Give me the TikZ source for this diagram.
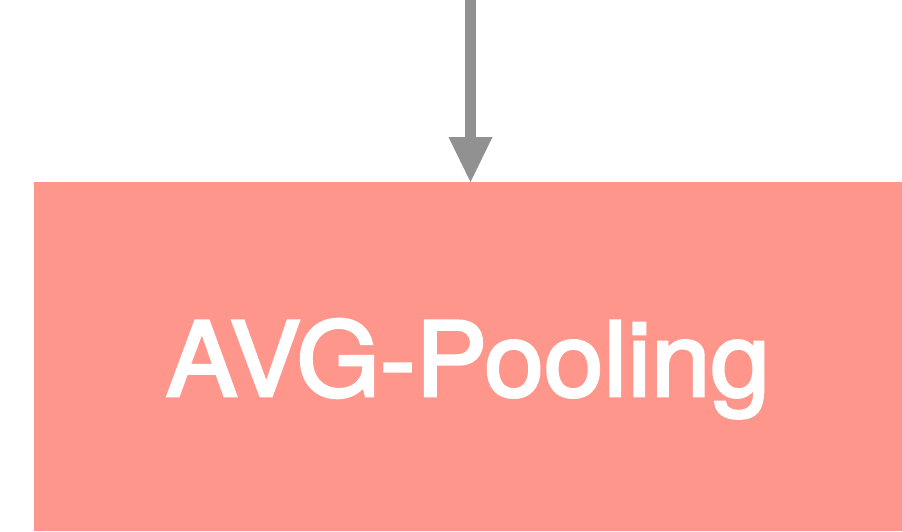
\documentclass[tikz,border=0pt]{standalone}
\usepackage{fontspec}
\setmainfont{TeX Gyre Heros}
\newfontfamily\poolfont[FakeBold=2.8,FakeStretch=1.04]{TeX Gyre Heros}
\usetikzlibrary{arrows.meta}
\definecolor{poolfill}{HTML}{FF968C}
\definecolor{flowgray}{HTML}{919191}
\tikzset{
  poolbox/.style={fill=poolfill, draw=none, inner sep=0pt, minimum width=868pt, minimum height=349pt},
  poollabel/.style={text=white, font=\poolfont\fontsize{103}{103}\selectfont, inner sep=0pt},
  flow/.style={draw=flowgray, line width=11pt, line cap=butt,
    -{Triangle[width=44pt,length=45pt,line width=0pt]}}
}
\begin{document}
\begin{tikzpicture}[x=1pt,y=-1pt]
  \useasboundingbox (0,0) rectangle (902,531);
  % layer block
  \node[poolbox, anchor=north west] (pool) at (34,182) {};
  \node[poollabel, anchor=base] (label) at (468,396) {AVG-Pooling};
  % incoming connection from above
  \coordinate (src) at (470.5,0);
  \draw[flow] (src) -- (src |- pool.north);
\end{tikzpicture}
\end{document}
